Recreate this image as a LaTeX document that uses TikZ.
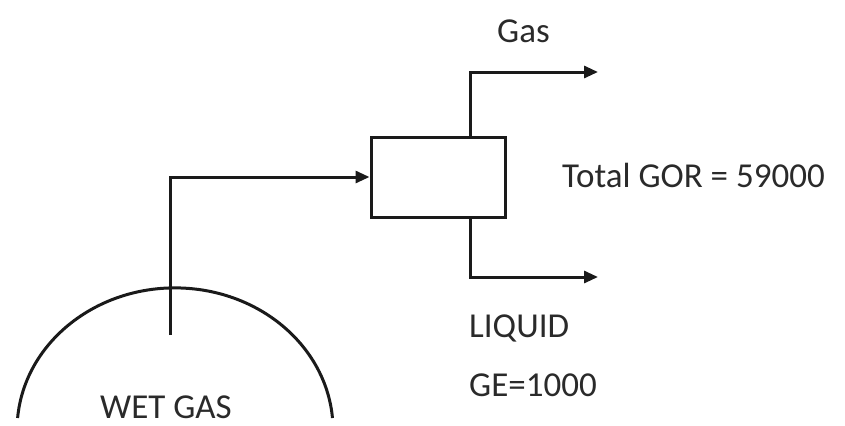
\documentclass[tikz,border=0pt]{standalone}
\usepackage{fontspec}
\setmainfont{Carlito}
\usetikzlibrary{arrows.meta}
\definecolor{ink}{HTML}{1A1A1A}
\definecolor{txt}{HTML}{2A2A2A}
\tikzset{
  pipe/.style={draw=ink, line width=3bp},
  flow/.style={pipe, -{Triangle[length=14bp,width=12bp]}},
  lbl/.style={inner sep=0pt, anchor=base west, text=txt, font=\fontsize{35bp}{40bp}\selectfont},
  vessel/.style={pipe, fill=white, minimum width=134bp, minimum height=80bp, inner sep=0pt}
}
\begin{document}
\begin{tikzpicture}[x=1bp,y=-1bp]
\useasboundingbox (0,0) rectangle (845,425);
\clip (0,0) rectangle (845,425);
% separator
\node[vessel, draw] (sep) at (438,177) {};
% wet gas reservoir (upper half of an ellipse)
\draw[pipe] (17.6,418) arc[start angle=175.2, end angle=4.8, x radius=158, y radius=-142];
\coordinate (src) at (170,335);
\coordinate (gasend) at (598,72);
\coordinate (liqend) at (598,277);
\draw[flow] (src) |- (sep.west);
\draw[flow] ([xshift=32bp]sep.north) |- (gasend);
\draw[flow] ([xshift=32bp]sep.south) |- (liqend);
% labels
\node[lbl] (gas) at (497,42) {Gas};
\node[lbl] (gor) at (562,187) {Total GOR = 59000};
\node[lbl] (liq) at (469,337) {LIQUID};
\node[lbl] (ge) at (469,396) {GE=1000};
\node[lbl] (wet) at (100,418) {WET GAS};
\end{tikzpicture}
\end{document}
